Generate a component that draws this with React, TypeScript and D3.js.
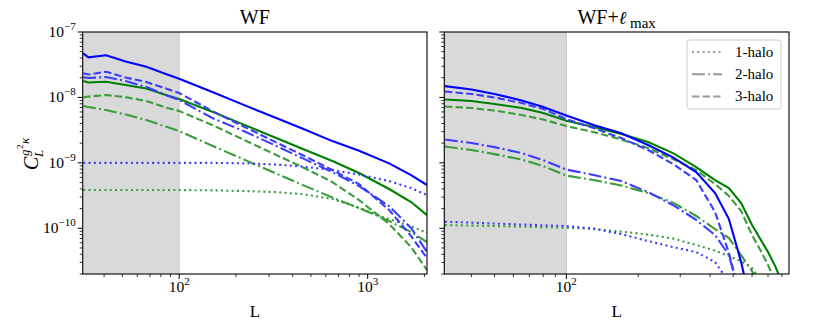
import React from "react";
import * as d3 from "d3";

// ---------- data ----------
const L_WF = [31, 33, 41, 52, 67, 85, 100, 150, 220, 320, 450, 650, 900, 1300, 1700, 2064];
const L_LMAX = [31, 40, 50, 65, 80, 100, 130, 170, 220, 280, 350, 420, 480, 540, 600, 650, 700, 750, 800, 857];

// WF panel
const wfBlueTotal = [4.72e-8, 4.1e-8, 4.4e-8, 3.54e-8, 2.95e-8, 2.28e-8, 1.93e-8, 1.21e-8, 7.7e-9, 4.98e-9, 3.35e-9, 2.15e-9, 1.53e-9, 9.83e-10, 6.51e-10, 4.58e-10];
const wfBlue3h = [2.34e-8, 2.24e-8, 2.47e-8, 2.01e-8, 1.72e-8, 1.37e-8, 1.17e-8, 6.19e-9, 3.59e-9, 2.12e-9, 1.32e-9, 7.76e-10, 4.74e-10, 1.9e-10, 7.6e-11, 3.5e-11];
const wfBlue2h = [2.03e-8, 1.98e-8, 2.05e-8, 1.78e-8, 1.44e-8, 1.09e-8, 9.12e-9, 4.84e-9, 3.06e-9, 1.87e-9, 1.18e-9, 7.23e-10, 4.42e-10, 2.18e-10, 1.01e-10, 4.33e-11];
const wfBlue1h = [1.0e-9, 1.0e-9, 1.0e-9, 1.0e-9, 1.0e-9, 1.0e-9, 1.0e-9, 1.0e-9, 9.83e-10, 9.42e-10, 8.78e-10, 7.76e-10, 6.62e-10, 5.27e-10, 4.12e-10, 3.22e-10];
const wfGreenTotal = [1.78e-8, 1.69e-8, 1.74e-8, 1.55e-8, 1.37e-8, 1.09e-8, 9.45e-9, 6.02e-9, 3.84e-9, 2.46e-9, 1.64e-9, 1.07e-9, 6.98e-10, 3.98e-10, 2.52e-10, 1.59e-10];
const wfGreen3h = [1.0e-8, 1.03e-8, 1.09e-8, 1.01e-8, 8.81e-9, 7.01e-9, 6.19e-9, 3.78e-9, 2.26e-9, 1.36e-9, 8.63e-10, 5.09e-10, 2.7e-10, 1.16e-10, 5.16e-11, 2.3e-11];
const wfGreen2h = [7.39e-9, 7.13e-9, 6.42e-9, 5.48e-9, 4.51e-9, 3.59e-9, 3.06e-9, 1.82e-9, 1.13e-9, 7.06e-10, 4.61e-10, 2.95e-10, 2.04e-10, 1.29e-10, 8.75e-11, 6.15e-11];
const wfGreen1h = [3.84e-10, 3.84e-10, 3.84e-10, 3.84e-10, 3.84e-10, 3.84e-10, 3.84e-10, 3.8e-10, 3.71e-10, 3.58e-10, 3.33e-10, 2.8e-10, 2.04e-10, 1.38e-10, 1.08e-10, 8.45e-11];

// WF + lmax panel
const lmBlueTotal = [1.49e-8, 1.32e-8, 1.13e-8, 8.97e-9, 7.13e-9, 5.29e-9, 3.78e-9, 2.83e-9, 1.87e-9, 1.21e-9, 7.23e-10, 3.45e-10, 1.38e-10, 3.04e-11, 5.61e-12, null, null, null, null, null];
const lmBlue3h = [1.23e-8, 1.13e-8, 9.97e-9, 8.21e-9, 6.65e-9, 4.67e-9, 3.4e-9, 2.39e-9, 1.57e-9, 9.59e-10, 5.46e-10, 1.77e-10, 4.18e-11, 7.98e-12, null, null, null, null, null, null];
const lmBlue2h = [2.27e-9, 2.01e-9, 1.74e-9, 1.41e-9, 1.1e-9, 7.9e-10, 6.51e-10, 5.27e-10, 3.58e-10, 2.26e-10, 1.34e-10, 7.87e-11, 3.89e-11, 7.98e-12, null, null, null, null, null, null];
const lmBlue1h = [1.26e-10, 1.22e-10, 1.18e-10, 1.14e-10, 1.11e-10, 1.08e-10, 9.89e-11, 8.15e-11, 6.37e-11, 5.16e-11, 4.33e-11, 3.04e-11, 1.5e-11, null, null, null, null, null, null, null];
const lmGreenTotal = [9.29e-9, 8.81e-9, 7.93e-9, 6.88e-9, 5.77e-9, 4.4e-9, 3.53e-9, 2.76e-9, 2.08e-9, 1.41e-9, 8.63e-10, 5.46e-10, 4.12e-10, 2.43e-10, 1.12e-10, 6.84e-11, 4.33e-11, 2.64e-11, 1.5e-11, 7.98e-12];
const lmGreen3h = [7.26e-9, 6.88e-9, 6.3e-9, 5.38e-9, 4.59e-9, 3.65e-9, 2.96e-9, 2.27e-9, 1.68e-9, 1.14e-9, 7.76e-10, 4.74e-10, 3.11e-10, 1.83e-10, 7.87e-11, 4.64e-11, 2.74e-11, 1.56e-11, 7.98e-12, null];
const lmGreen2h = [1.78e-9, 1.57e-9, 1.36e-9, 1.12e-9, 8.94e-10, 6.39e-10, 5.46e-10, 4.5e-10, 3.45e-10, 2.47e-10, 1.54e-10, 9.72e-11, 7.08e-11, 3.89e-11, 2.22e-11, 1.06e-11, null, null, null, null];
const lmGreen1h = [1.12e-10, 1.1e-10, 1.08e-10, 1.06e-10, 1.04e-10, 1.02e-10, 9.72e-11, 8.9e-11, 8.01e-11, 6.96e-11, 5.54e-11, 4.56e-11, 3.76e-11, 3.15e-11, 2.46e-11, 1.61e-11, 7.98e-12, null, null, null];

const X_DOMAIN_WF = [30.8, 2064];
const X_DOMAIN_LMAX = [30.8, 857];
const Y_DOMAIN = [2e-11, 1e-7];
const SHADE_MAX = 100;
const Y_MAJOR = [1e-7, 1e-8, 1e-9, 1e-10];
const Y_MAJOR_EXP = ["−7", "−8", "−9", "−10"];
const LEGEND_LABELS = ["1-halo", "2-halo", "3-halo"];

// ---------- styles ----------
const BLUE = "#0000ff";
const BLUE_L = "#3c3cff";
const GREEN = "#008000";
const GREEN_L = "#3a9c3a";
const DASH = { solid: "", dotted: "2,3.3", dashdot: "12.8,3.2,2,3.2", dashed: "7.4,3.2" };
const FONT = "'Liberation Serif', 'DejaVu Serif', serif";

type Series = { vals: (number | null)[]; color: string; dash: string; width: number };

const panelTop = 32;
const panelBottom = 274;

function Panel({
  id, x0, x1, xDomain, L, series, xMajor, showYLabels, title, legend,
}: {
  id: string; x0: number; x1: number; xDomain: number[]; L: number[]; series: Series[];
  xMajor: { v: number; exp: string }[]; showYLabels: boolean; title: React.ReactNode; legend?: boolean;
}) {
  const x = d3.scaleLog().domain(xDomain).range([x0, x1]);
  const y = d3.scaleLog().domain(Y_DOMAIN).range([panelBottom, panelTop]);
  const line = d3
    .line<[number, number | null]>()
    .defined((d) => d[1] != null)
    .x((d) => x(d[0]))
    .y((d) => y(d[1] as number));

  const xMinor: number[] = [];
  for (let dec = 10; dec <= 1000; dec *= 10)
    for (let k = 2; k <= 9; k++) {
      const v = k * dec;
      if (v >= xDomain[0] && v <= xDomain[1]) xMinor.push(v);
    }
  const yMinor: number[] = [];
  for (let dec = 1e-11; dec <= 1e-8 * 1.01; dec *= 10)
    for (let k = 2; k <= 9; k++) {
      const v = k * dec;
      if (v >= Y_DOMAIN[0] * 0.999 && v <= Y_DOMAIN[1]) yMinor.push(v);
    }

  return (
    <g>
      <defs>
        <clipPath id={id}>
          <rect x={x0} y={panelTop} width={x1 - x0} height={panelBottom - panelTop} />
        </clipPath>
      </defs>
      <rect x={x(xDomain[0])} y={panelTop} width={x(SHADE_MAX) - x(xDomain[0])} height={panelBottom - panelTop} fill="#d9d9d9" />
      <line x1={x(SHADE_MAX)} x2={x(SHADE_MAX)} y1={panelTop} y2={panelBottom} stroke="#c8c8c8" strokeWidth={1} />
      <g clipPath={`url(#${id})`}>
        {series.map((s, i) => (
          <path
            key={i}
            d={line(L.map((l, j) => [l, s.vals[j]] as [number, number | null])) || ""}
            fill="none"
            stroke={s.color}
            strokeWidth={s.width}
            strokeDasharray={s.dash}
          />
        ))}
      </g>
      <rect x={x0} y={panelTop} width={x1 - x0} height={panelBottom - panelTop} fill="none" stroke="#000" strokeWidth={1.1} />
      {xMinor.map((v) => (
        <line key={"xm" + v} x1={x(v)} x2={x(v)} y1={panelBottom} y2={panelBottom + 3} stroke="#000" strokeWidth={0.8} />
      ))}
      {xMajor.map((t) => (
        <g key={"xM" + t.v}>
          <line x1={x(t.v)} x2={x(t.v)} y1={panelBottom} y2={panelBottom + 5} stroke="#000" strokeWidth={1} />
          <text x={x(t.v)} y={292} textAnchor="middle" fontFamily={FONT} fontSize={15.5}>
            10<tspan dy={-7} fontSize={11}>{t.exp}</tspan>
          </text>
        </g>
      ))}
      {yMinor.map((v) => (
        <line key={"ym" + v} x1={x0 - 3} x2={x0} y1={y(v)} y2={y(v)} stroke="#000" strokeWidth={0.8} />
      ))}
      {Y_MAJOR.map((v, i) => (
        <g key={"yM" + v}>
          <line x1={x0 - 5} x2={x0} y1={y(v)} y2={y(v)} stroke="#000" strokeWidth={1} />
          {showYLabels && (
            <text x={x0 - 7} y={y(v) + 5} textAnchor="end" fontFamily={FONT} fontSize={15.5}>
              10<tspan dy={-7} fontSize={11}>{Y_MAJOR_EXP[i]}</tspan>
            </text>
          )}
        </g>
      ))}
      <text x={(x0 + x1) / 2} y={317} textAnchor="middle" fontFamily={FONT} fontSize={17}>L</text>
      <text x={(x0 + x1) / 2} y={24} textAnchor="middle" fontFamily={FONT} fontSize={20}>{title}</text>
      {legend && (
        <g>
          <rect x={687} y={40} width={94} height={69} rx={3} fill="#fff" fillOpacity={0.8} stroke="#cccccc" strokeWidth={1} />
          {LEGEND_LABELS.map((lab, i) => (
            <g key={lab}>
              <line x1={692} x2={722} y1={52 + i * 22.2} y2={52 + i * 22.2} stroke="#999" strokeWidth={2}
                strokeDasharray={[DASH.dotted, DASH.dashdot, DASH.dashed][i]} />
              <text x={735} y={57 + i * 22.2} fontFamily={FONT} fontSize={15}>{lab}</text>
            </g>
          ))}
        </g>
      )}
    </g>
  );
}

export default function App() {
  const lw = 2.1;
  const wfSeries: Series[] = [
    { vals: wfGreen1h, color: GREEN_L, dash: DASH.dotted, width: lw },
    { vals: wfGreen2h, color: GREEN_L, dash: DASH.dashdot, width: lw },
    { vals: wfGreen3h, color: GREEN_L, dash: DASH.dashed, width: lw },
    { vals: wfGreenTotal, color: GREEN, dash: DASH.solid, width: lw },
    { vals: wfBlue1h, color: BLUE_L, dash: DASH.dotted, width: lw },
    { vals: wfBlue2h, color: BLUE_L, dash: DASH.dashdot, width: lw },
    { vals: wfBlue3h, color: BLUE_L, dash: DASH.dashed, width: lw },
    { vals: wfBlueTotal, color: BLUE, dash: DASH.solid, width: lw },
  ];
  const lmSeries: Series[] = [
    { vals: lmGreen1h, color: GREEN_L, dash: DASH.dotted, width: lw },
    { vals: lmGreen2h, color: GREEN_L, dash: DASH.dashdot, width: lw },
    { vals: lmGreen3h, color: GREEN_L, dash: DASH.dashed, width: lw },
    { vals: lmGreenTotal, color: GREEN, dash: DASH.solid, width: lw },
    { vals: lmBlue1h, color: BLUE_L, dash: DASH.dotted, width: lw },
    { vals: lmBlue2h, color: BLUE_L, dash: DASH.dashdot, width: lw },
    { vals: lmBlue3h, color: BLUE_L, dash: DASH.dashed, width: lw },
    { vals: lmBlueTotal, color: BLUE, dash: DASH.solid, width: lw },
  ];
  return (
    <svg width={830} height={323} style={{ position: "absolute", left: 0, top: 0 }}>
      <rect width={830} height={323} fill="#fff" />
      <Panel id="clipWF" x0={82.7} x1={427} xDomain={X_DOMAIN_WF} L={L_WF} series={wfSeries}
        xMajor={[{ v: 100, exp: "2" }, { v: 1000, exp: "3" }]} showYLabels={true} title="WF" />
      <Panel id="clipLM" x0={444.3} x1={789} xDomain={X_DOMAIN_LMAX} L={L_LMAX} series={lmSeries}
        xMajor={[{ v: 100, exp: "2" }]} showYLabels={false} legend={true}
        title={<>WF+<tspan fontStyle="italic" fontFamily="'DejaVu Serif', serif" fontSize={18}>ℓ</tspan><tspan dy={4} fontSize={15}> max</tspan></>} />
      <g transform="translate(38,170) rotate(-90)" fontFamily={FONT} fontStyle="italic">
        <text x={0} y={0} fontSize={20}>C</text>
        <text x={13} y={5} fontSize={13}>L</text>
        <text x={14} y={-9} fontSize={13}>g</text>
        <text x={21} y={-15} fontSize={9} fontStyle="normal">2</text>
        <text x={26} y={-9} fontSize={13}>κ</text>
      </g>
    </svg>
  );
}
